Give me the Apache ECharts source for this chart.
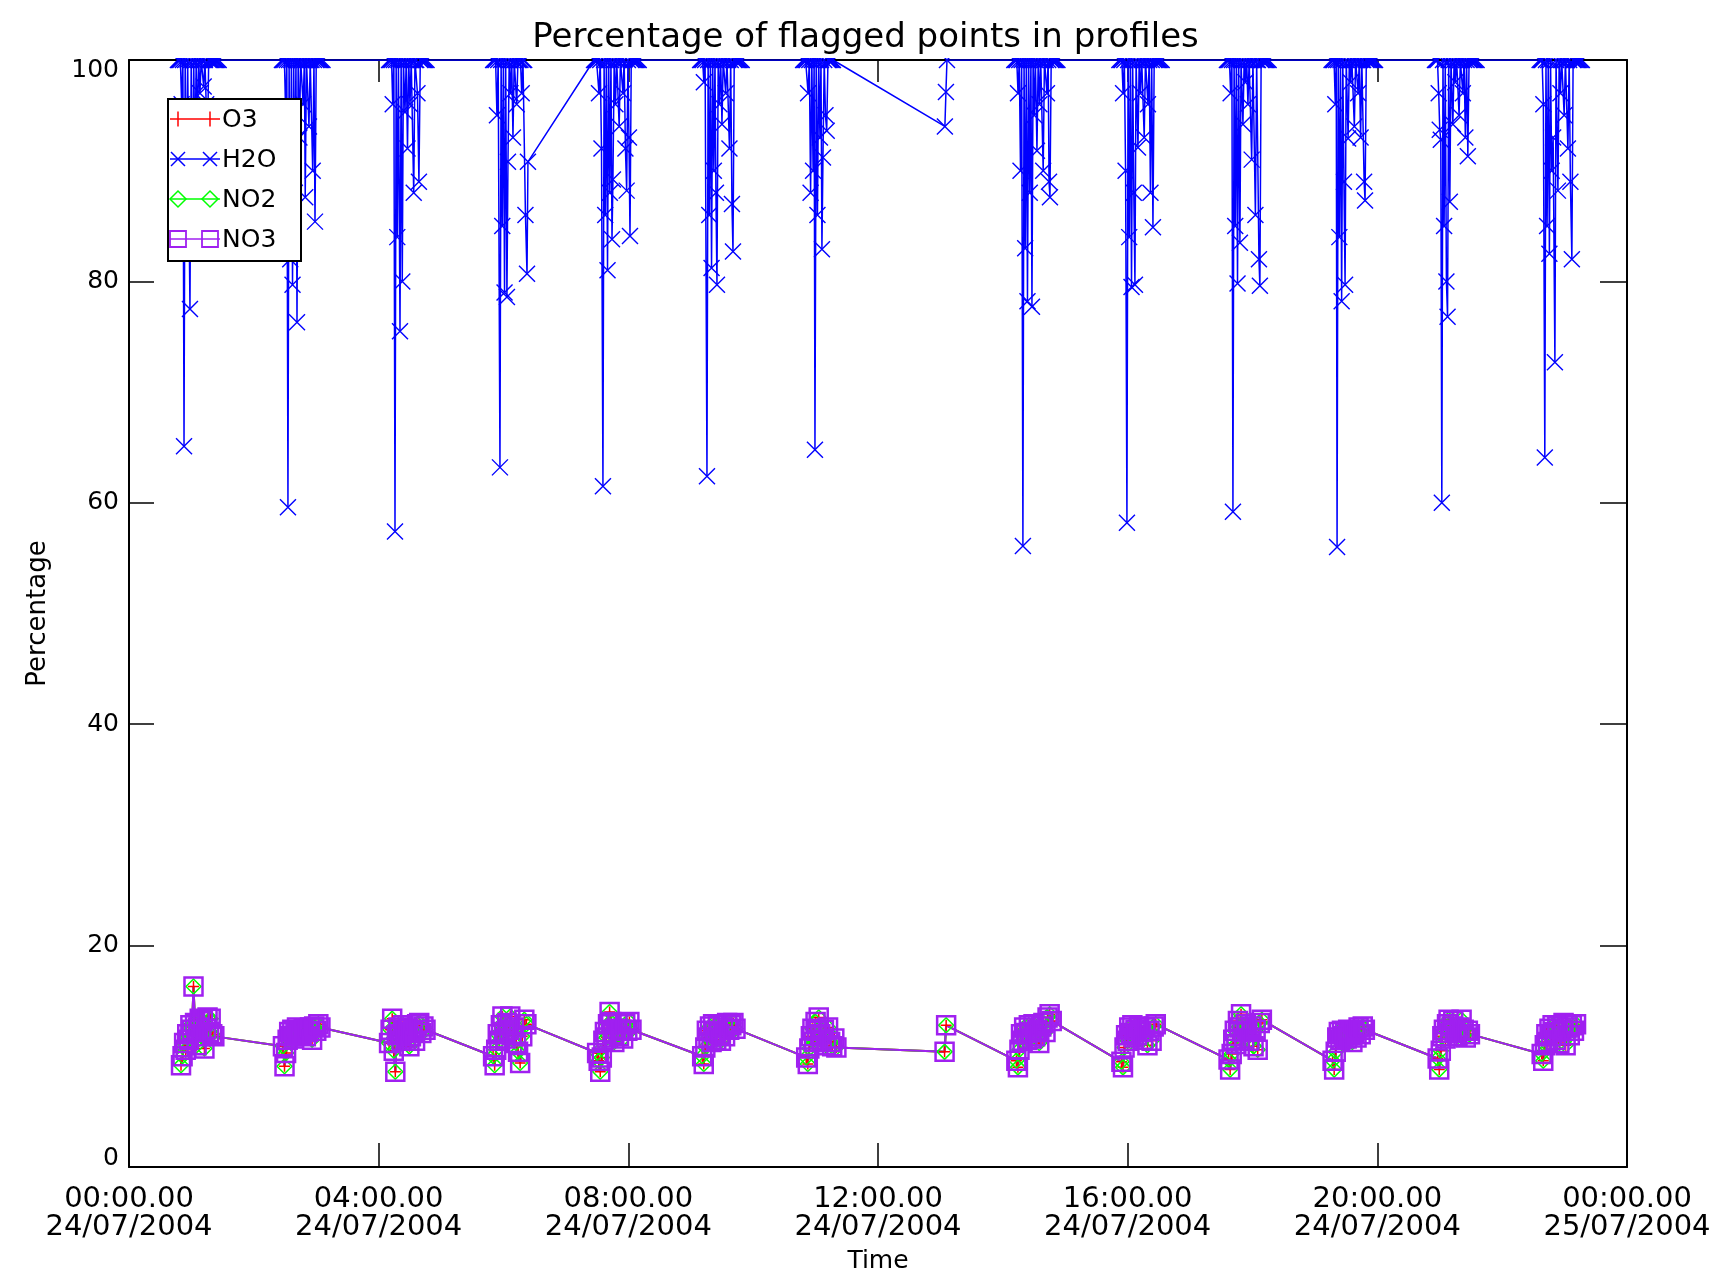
<!DOCTYPE html>
<html><head><meta charset="utf-8">
<script src="https://cdn.jsdelivr.net/npm/echarts/dist/echarts.min.js"></script>
<style>html,body{margin:0;padding:0;background:#fff}#c{width:1731px;height:1281px}</style>
</head><body><div id="c"></div>
<script>
// ---- labels ----
const chartTitle = 'Percentage of flagged points in profiles';
const xName = 'Time';
const yName = 'Percentage';
const xTickLabels = ['00:00.00\n24/07/2004','04:00.00\n24/07/2004','08:00.00\n24/07/2004','12:00.00\n24/07/2004','16:00.00\n24/07/2004','20:00.00\n24/07/2004','00:00.00\n25/07/2004'];
const seriesNames = ['O3','H2O','NO2','NO3'];

// ---- H2O: [minutes since 00:00 24/07/2004, percentage] ----
const h2oC01 = [[47.0,100],[48.2,100],[49.4,100],[50.6,96],[51.8,100],[52.9,65.1],[54.0,100],[55.2,86],[56.4,100],[57.5,88],[58.6,77.5],[59.8,100],[61.0,85],[62.2,100],[63.4,91],[64.6,100],[65.8,94],[67.0,100],[68.2,97],[69.4,100],[70.6,100],[71.8,97.6],[73.0,100],[74.2,96],[75.4,92],[76.6,100],[77.8,100],[79.0,100],[80.2,100],[81.4,100],[82.6,100],[83.8,100],[85.0,100],[86.2,100]];
const h2oC02 = [[147.0,100],[148.2,100],[149.4,100],[150.6,95],[151.7,100],[152.8,59.6],[153.9,100],[155.0,82],[156.1,100],[157.2,79.7],[158.3,100],[159.4,88],[160.5,100],[161.5,76.3],[162.6,100],[163.8,93],[165.0,100],[166.2,100],[167.4,96],[168.6,100],[169.4,87.6],[170.6,100],[171.8,100],[173.0,94],[174.2,100],[175.4,100],[176.6,90],[177.8,100],[178.8,85.4],[180.0,100],[181.2,100],[182.4,100],[183.6,100],[184.8,100],[186.0,100]];
const h2oC03 = [[250.0,100],[251.2,100],[252.4,100],[253.5,96],[254.6,100],[255.7,57.4],[256.8,100],[257.9,84],[259.0,100],[260.5,75.5],[261.6,100],[262.7,80],[263.8,100],[265.3,95.3],[266.5,100],[267.7,92],[268.9,100],[270.1,96],[271.3,100],[272.5,100],[273.7,88],[274.9,100],[276.1,100],[277.3,97],[278.7,89.0],[280.0,100],[281.2,100],[282.4,100],[283.6,100],[284.8,100],[286.0,100]];
const h2oC04 = [[350.0,100],[351.2,100],[352.4,100],[353.7,95],[354.9,100],[356.6,63.2],[357.7,100],[358.8,85],[359.9,100],[361.0,79],[362.1,100],[363.3,78.6],[364.3,90.8],[365.5,100],[366.7,97],[367.9,100],[369.1,93],[370.3,100],[371.5,100],[372.7,96],[373.9,100],[375.1,100],[376.3,100],[377.5,97],[378.7,100],[379.9,100],[381.1,86],[382.6,80.7],[383.5,90.8]];
const h2oC05 = [[447.0,100],[448.2,100],[449.4,100],[450.6,100],[451.8,97],[453.0,100],[454.2,92],[455.6,61.5],[456.7,100],[457.8,86],[458.9,100],[460.0,81],[461.1,100],[462.2,88],[463.3,100],[464.3,83.8],[465.2,89.2],[466.4,100],[467.6,96],[468.8,100],[470.0,100],[471.2,94],[472.4,100],[473.6,100],[474.8,97],[476.0,100],[477.2,92],[478.4,88.2],[479.6,100],[480.6,93],[481.6,84.1],[482.8,100],[484.0,100],[485.2,100],[486.4,100],[487.6,100],[488.8,100],[490.0,100]];
const h2oC06 = [[549.0,100],[550.2,100],[551.4,100],[552.6,98],[553.8,100],[555.6,62.4],[556.7,100],[557.8,86],[558.9,100],[560.0,81.2],[561.1,100],[562.2,90],[563.3,100],[564.2,88],[565.2,79.7],[566.4,100],[567.6,96],[568.8,100],[570.0,94.2],[571.2,100],[572.4,100],[573.6,97],[574.8,100],[576.0,100],[577.2,92],[578.4,100],[579.6,87],[580.6,82.7],[581.8,100],[583.0,100],[584.2,100],[585.4,100],[586.6,100],[587.8,100],[589.0,100]];
const h2oC07 = [[648.0,100],[649.2,100],[650.4,100],[651.6,100],[652.8,97],[654.0,100],[655.2,88],[656.4,100],[657.6,90],[658.6,100],[659.4,64.8],[660.6,100],[661.8,86],[663.0,100],[664.2,93],[665.2,100],[666.1,82.9],[667.1,91.2],[668.3,100],[669.5,95],[670.7,93.6],[671.9,100],[673.1,100],[674.3,100],[675.5,100],[676.7,100]];
const h2oC08 = [[784.3,94.0],[785.3,97.1],[786.3,100]];
const h2oC09 = [[851.0,100],[852.2,100],[853.4,100],[854.6,97],[855.8,100],[857.0,90],[858.1,100],[859.3,56.1],[860.4,100],[861.5,83],[862.6,100],[863.7,78.2],[864.8,100],[865.9,88],[867.0,100],[868.0,77.7],[869.1,100],[870.2,95],[871.3,100],[872.8,91.8],[874.0,100],[875.2,96],[876.4,100],[877.6,100],[878.8,90],[880.0,100],[881.2,100],[882.4,97],[883.6,100],[884.4,89],[885.3,87.6],[886.5,100],[887.7,100],[888.9,100],[890.1,100],[891.3,100],[892.5,100]];
const h2oC10 = [[952.0,100],[953.2,100],[954.4,100],[955.6,97],[956.8,100],[958.0,90],[959.3,58.2],[960.4,100],[961.5,84],[962.6,100],[963.7,79.5],[964.8,100],[965.9,88],[967.0,79.7],[968.1,100],[969.9,92.1],[971.1,100],[972.3,97],[973.5,100],[974.7,100],[975.9,93],[977.1,100],[978.3,100],[979.5,96],[980.7,100],[981.9,88],[983.1,100],[984.3,84.9],[985.5,100],[986.7,100],[987.9,100],[989.1,100],[990.3,100],[991.5,100],[992.7,100]];
const h2oC11 = [[1055.4,100],[1056.6,100],[1057.8,100],[1059.0,97],[1060.2,100],[1061.2,59.2],[1062.3,100],[1063.4,85],[1064.5,100],[1065.6,79.8],[1066.7,100],[1067.9,83.5],[1069.0,100],[1070.8,94.2],[1072.0,100],[1073.2,98],[1074.4,100],[1075.6,96],[1076.8,100],[1078.0,100],[1079.2,91],[1080.4,100],[1081.6,100],[1082.8,86],[1084.0,100],[1085.2,100],[1086.2,82],[1087.1,79.6],[1088.3,100],[1089.5,100],[1090.7,100],[1091.9,100],[1093.1,100],[1094.3,100],[1095.5,100]];
const h2oC12 = [[1156.0,100],[1157.2,100],[1158.4,100],[1159.6,96],[1160.5,100],[1161.3,56.0],[1162.4,100],[1163.5,84],[1164.6,100],[1165.7,78.2],[1166.8,100],[1167.9,89],[1169.0,79.7],[1170.1,100],[1171.9,92.9],[1173.1,100],[1174.3,98],[1175.5,100],[1176.7,100],[1177.9,94],[1179.1,100],[1180.3,100],[1181.5,97],[1182.7,100],[1183.9,93],[1185.1,100],[1186.3,100],[1187.3,89],[1188.2,87.3],[1189.4,100],[1190.6,100],[1191.8,100],[1193.0,100],[1194.2,100],[1195.4,100],[1196.6,100],[1197.8,100]];
const h2oC13 = [[1255.4,100],[1256.6,100],[1257.8,100],[1259.0,97],[1260.0,93.7],[1261.0,92.8],[1262.0,60.0],[1263.1,100],[1264.2,85],[1265.3,100],[1266.4,80],[1267.5,76.8],[1268.6,100],[1269.7,87.2],[1270.8,100],[1272.6,94.2],[1273.8,100],[1275.0,98],[1276.2,100],[1277.4,100],[1278.6,95],[1279.8,100],[1281.0,100],[1282.2,97],[1283.4,100],[1284.6,93],[1285.8,100],[1287.0,91.3],[1288.2,100],[1289.4,100],[1290.6,100],[1291.8,100],[1293.0,100],[1294.2,100],[1295.4,100]];
const h2oC14 = [[1356.0,100],[1357.2,100],[1358.4,100],[1359.6,96],[1361.0,64.1],[1362.1,100],[1363.2,85],[1364.3,100],[1365.4,82.5],[1366.5,100],[1367.6,90],[1369.0,93],[1370.7,72.7],[1371.8,100],[1373.6,88.2],[1374.8,100],[1376.0,97],[1377.2,100],[1378.4,100],[1379.6,95],[1380.8,100],[1382.0,100],[1383.2,92],[1384.4,100],[1385.6,89],[1387.0,82.0],[1388.2,100],[1389.4,100],[1390.6,100],[1391.8,100],[1393.0,100],[1394.2,100],[1395.4,100],[1396.6,100]];

// ---- O3 / NO2 / NO3 (identical in the picture): [minutes, percentage] ----
const chemC01 = [[50,9.2],[51.5,10.0],[53,11.2],[54.5,10.6],[56,12.0],[57.5,11.5],[59,12.8],[60.5,12.4],[62,16.3],[63.5,13.0],[65,11.0],[66.5,12.6],[68,13.4],[69.5,11.8],[71,13.2],[72.5,10.7],[74,12.5],[75.5,13.5],[77,12.2],[78.5,13.4],[80,12.0],[82,11.8]];
const chemC02 = [[148,10.9],[149.5,9.1],[151,10.3],[152.5,11.5],[154,12.2],[155.5,11.8],[157,12.4],[158.5,11.6],[160,12.1],[161.5,12.6],[163,11.9],[164.5,12.3],[166,12.0],[168,12.5],[170,11.8],[172,12.2],[174,12.6],[176,11.5],[178,12.7],[180,12.3],[182,12.9],[184,12.6]];
const chemC03 = [[250,11.2],[251.5,12.4],[253,13.4],[254.5,10.5],[256,8.6],[257.5,11.9],[259,12.6],[260.5,12.0],[262,11.4],[263.5,12.8],[265,12.2],[266.5,11.6],[268,12.5],[269.5,10.9],[271,11.8],[273,12.3],[275,11.4],[277,12.9],[279,13.0],[281,12.1],[283,12.7],[285,12.4]];
const chemC04 = [[350,10.0],[351.5,9.2],[353,10.6],[354.5,12.0],[356,11.4],[357.5,12.8],[359,13.6],[360.5,12.2],[362,11.6],[363.5,13.0],[365,12.4],[366.5,13.6],[368,11.9],[370,12.6],[372,11.2],[374,10.4],[376,9.4],[378,11.8],[380,13.3],[382,12.9]];
const chemC05 = [[450,10.3],[451.5,9.6],[453,8.6],[454.5,9.9],[456,11.4],[457.5,12.2],[459,11.7],[460.5,12.9],[462,14.0],[463.5,13.1],[465,12.0],[466.5,11.3],[468,12.5],[469.5,13.0],[471,11.8],[473,12.4],[475,11.6],[477,12.9],[479,12.3],[481,13.1],[483,12.4]];
const chemC06 = [[551,10.0],[552.5,9.3],[554,10.8],[555.5,12.3],[557,11.7],[558.5,12.7],[560,11.3],[561.5,12.9],[563,12.2],[564.5,11.5],[566,12.8],[567.5,12.0],[569,11.4],[571,12.6],[573,11.8],[575,13.0],[577,12.4],[579,12.8],[581,13.0],[583,12.5]];
const chemC07 = [[651,9.9],[652.5,9.3],[654,10.7],[655.5,11.8],[657,12.5],[658.5,11.3],[660,13.1],[661.5,12.3],[663,13.5],[664.5,12.0],[666,11.5],[668,12.4],[670,11.0],[672,12.6],[674,11.3],[676,10.9],[678,11.6],[680,10.8]];
const chemC08 = [[784,10.4],[785.5,12.8]];
const chemC09 = [[853,9.6],[854.5,9.0],[856,10.6],[857.5,12.0],[859,11.4],[860.5,12.6],[862,12.1],[863.5,11.5],[865,12.8],[866.5,12.2],[868,11.6],[869.5,12.9],[871,11.8],[873,12.4],[875,11.2],[877,12.7],[879,13.0],[881,12.2],[883,13.5],[885,13.8],[887,13.2]];
const chemC10 = [[954,9.5],[955.5,9.0],[957,10.8],[958.5,11.9],[960,11.4],[961.5,12.6],[963,12.1],[964.5,12.8],[966,11.7],[967.5,12.4],[969,11.9],[971,12.7],[973,12.2],[975,11.5],[977,12.6],[979,11.0],[981,12.3],[983,11.4],[985,12.7],[987,12.9]];
const chemC11 = [[1057,9.7],[1058.5,8.8],[1060,10.2],[1061.5,11.5],[1063,12.3],[1064.5,11.1],[1066,13.2],[1067.5,12.6],[1069,13.8],[1070.5,12.2],[1072,11.6],[1073.5,12.9],[1075,12.3],[1077,11.4],[1079,12.7],[1081,10.9],[1083,12.4],[1085,10.6],[1087,13.0],[1089,13.3]];
const chemC12 = [[1157,9.6],[1158.5,8.8],[1160,10.4],[1161.5,11.7],[1163,12.2],[1164.5,11.5],[1166,12.3],[1167.5,11.8],[1169,12.1],[1170.5,11.6],[1172,12.4],[1174,11.9],[1176,11.3],[1178,12.2],[1180,11.7],[1182,12.6],[1184,12.0],[1186,12.7],[1188,12.4]];
const chemC13 = [[1258,9.8],[1259.5,8.8],[1261,10.5],[1262.5,11.8],[1264,12.4],[1265.5,11.6],[1267,12.9],[1268.5,13.3],[1270,12.1],[1271.5,12.7],[1273,13.2],[1275,12.2],[1277,11.8],[1279,12.6],[1281,13.3],[1283,12.4],[1285,11.7],[1287,12.3],[1289,12.0]];
const chemC14 = [[1358,10.2],[1359.5,9.6],[1361,11.0],[1362.5,12.0],[1364,11.3],[1365.5,12.5],[1367,11.8],[1368.5,12.8],[1370,12.2],[1371.5,11.5],[1373,12.7],[1375,11.2],[1377,12.4],[1379,13.0],[1381,11.0],[1383,12.6],[1385,11.9],[1387,12.8],[1389,12.3],[1391,12.9]];

const h2oData = [].concat(h2oC01,h2oC02,h2oC03,h2oC04,h2oC05,h2oC06,h2oC07,h2oC08,h2oC09,h2oC10,h2oC11,h2oC12,h2oC13,h2oC14);
const chemData = [].concat(chemC01,chemC02,chemC03,chemC04,chemC05,chemC06,chemC07,chemC08,chemC09,chemC10,chemC11,chemC12,chemC13,chemC14);

// ---- styling ----
const FONT = 'DejaVu Sans';
const colO3 = '#ff0000', colH2O = '#0000ff', colNO2 = '#00ff00', colNO3 = '#a020f0';
const PLUS = 'path://M5 0L5 10M0 5L10 5';
const CROSS = 'path://M0 0L10 10M10 0L0 10';

const chart = echarts.init(document.getElementById('c'), null, {renderer: 'canvas'});

function axisCommon(extra) {
  return Object.assign({
    type: 'value',
    axisLine: {show: true, onZero: false, lineStyle: {color: '#000', width: 2}},
    splitLine: {show: false},
    minorTick: {show: false}
  }, extra);
}

// legend drawn as graphic (line with a marker at both ends, as in the picture)
const LZ = 100;
const LX0 = 170, LX1 = 220, LM0 = 178, LM1 = 210, LT = 222;
const rowY = [119, 159, 199, 239];
const legendEls = [
  {type: 'rect', z: LZ, silent: true, shape: {x: 168, y: 99, width: 133, height: 162}, style: {fill: '#fff', stroke: '#000', lineWidth: 2}}
];
const lineCols = [colO3, colH2O, colNO2, colNO3];
rowY.forEach((y, i) => {
  legendEls.push({type: 'line', z: LZ, silent: true, shape: {x1: LX0, y1: y, x2: LX1, y2: y}, style: {stroke: lineCols[i], lineWidth: 1.5}});
  [LM0, LM1].forEach(mx => {
    if (i === 0) {
      legendEls.push({type: 'line', z: LZ, silent: true, shape: {x1: mx, y1: y - 7.5, x2: mx, y2: y + 7.5}, style: {stroke: colO3, lineWidth: 1.5}});
    } else if (i === 1) {
      legendEls.push({type: 'line', z: LZ, silent: true, shape: {x1: mx - 7, y1: y - 7, x2: mx + 7, y2: y + 7}, style: {stroke: colH2O, lineWidth: 1.5}});
      legendEls.push({type: 'line', z: LZ, silent: true, shape: {x1: mx + 7, y1: y - 7, x2: mx - 7, y2: y + 7}, style: {stroke: colH2O, lineWidth: 1.5}});
    } else if (i === 2) {
      legendEls.push({type: 'polygon', z: LZ, silent: true, shape: {points: [[mx, y - 8], [mx + 8, y], [mx, y + 8], [mx - 8, y]]}, style: {fill: 'none', stroke: colNO2, lineWidth: 1.5}});
    } else {
      legendEls.push({type: 'rect', z: LZ, silent: true, shape: {x: mx - 8, y: y - 8, width: 16, height: 16}, style: {fill: 'none', stroke: colNO3, lineWidth: 1.8}});
    }
  });
  legendEls.push({type: 'text', z: LZ, silent: true, x: LT, y: y + 1, style: {text: seriesNames[i], font: '25px "' + FONT + '"', fill: '#000', verticalAlign: 'middle', align: 'left'}});
});

const option = {
  animation: false,
  backgroundColor: '#fff',
  title: {
    text: chartTitle, left: 'center', top: 16, padding: [5, 0, 5, 25], z: 200,
    textStyle: {fontFamily: FONT, fontSize: 34, fontWeight: 'normal', color: '#000'}
  },
  grid: {left: 129, right: 104, top: 60, bottom: 114, containLabel: false, outerBoundsMode: 'none'},
  xAxis: [
    axisCommon({
      position: 'bottom', min: 0, max: 1440, interval: 240,
      axisTick: {show: true, inside: true, length: 24, lineStyle: {color: '#000', width: 1.5}},
      axisLabel: {
        show: true, margin: 19, color: '#000', fontFamily: FONT, fontSize: 29, lineHeight: 27.5,
        showMinLabel: true, showMaxLabel: true,
        formatter: v => xTickLabels[Math.round(v / 240)]
      },
      name: xName, nameLocation: 'middle', nameGap: 82,
      nameTextStyle: {fontFamily: FONT, fontSize: 25, color: '#000'}
    }),
    axisCommon({
      position: 'top', min: 0, max: 1440, interval: 240,
      axisTick: {show: true, inside: true, length: 22, lineStyle: {color: '#000', width: 1.5}},
      axisLabel: {show: false}
    })
  ],
  yAxis: [
    axisCommon({
      position: 'left', min: 0, max: 100, interval: 20,
      axisTick: {show: true, inside: true, length: 25, lineStyle: {color: '#000', width: 1.5}},
      axisLabel: {
        show: true, margin: 10, color: '#000', fontFamily: FONT, fontSize: 25,
        formatter: v => v === 0 ? '{lo|0}' : (v === 100 ? '{hi|100}' : String(v)),
        rich: {
          lo: {fontFamily: FONT, fontSize: 25, color: '#000', padding: [0, 0, 18, 0]},
          hi: {fontFamily: FONT, fontSize: 25, color: '#000', padding: [20, 0, 0, 0]}
        }
      },
      name: yName, nameLocation: 'middle', nameGap: 78, nameRotate: 90,
      nameTextStyle: {fontFamily: FONT, fontSize: 26, color: '#000'}
    }),
    axisCommon({
      position: 'right', min: 0, max: 100, interval: 20,
      axisTick: {show: true, inside: true, length: 27, lineStyle: {color: '#000', width: 1.5}},
      axisLabel: {show: false}
    })
  ],
  graphic: [
    {type: 'rect', z: 50, silent: true, shape: {x: 0, y: 0, width: 1731, height: 58}, style: {fill: '#fff'}}
  ].concat(legendEls),
  series: [
    {
      name: seriesNames[0], type: 'line', data: chemData, xAxisIndex: 0, yAxisIndex: 0, silent: true,
      symbol: PLUS, symbolSize: 11,
      lineStyle: {color: colO3, width: 2},
      itemStyle: {color: 'rgba(0,0,0,0)', borderColor: colO3, borderWidth: 1.5}
    },
    {
      name: seriesNames[1], type: 'line', data: h2oData, xAxisIndex: 0, yAxisIndex: 0, silent: true,
      symbol: CROSS, symbolSize: 16,
      lineStyle: {color: colH2O, width: 1.5},
      itemStyle: {color: 'rgba(0,0,0,0)', borderColor: colH2O, borderWidth: 1.4}
    },
    {
      name: seriesNames[2], type: 'line', data: chemData, xAxisIndex: 0, yAxisIndex: 0, silent: true,
      symbol: 'diamond', symbolSize: 15,
      lineStyle: {color: colNO2, width: 2},
      itemStyle: {color: 'rgba(0,0,0,0)', borderColor: colNO2, borderWidth: 1.5}
    },
    {
      name: seriesNames[3], type: 'line', data: chemData, xAxisIndex: 0, yAxisIndex: 0, silent: true,
      symbol: 'rect', symbolSize: 18,
      lineStyle: {color: colNO3, width: 2},
      itemStyle: {color: 'rgba(0,0,0,0)', borderColor: colNO3, borderWidth: 2.5}
    }
  ]
};
chart.setOption(option);
</script></body></html>
